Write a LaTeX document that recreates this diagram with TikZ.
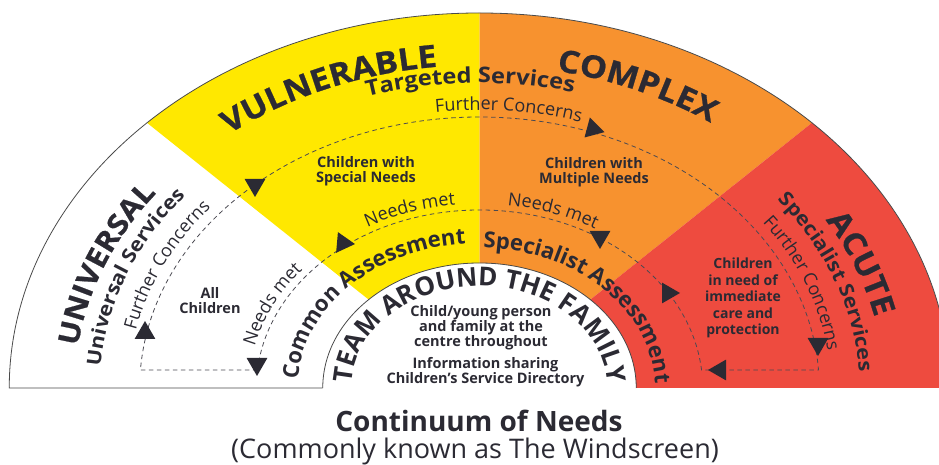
\documentclass[tikz,border=0pt]{standalone}
\usepackage{fontspec}
\setmainfont{Open Sans}
\newfontfamily\widefont{Open Sans}[FakeStretch=1.1]
\newfontfamily\heavyfont{Open Sans}[FakeStretch=1.1,FakeBold=0.8]
\usetikzlibrary{decorations.text,shapes.geometric}
\definecolor{cyel}{HTML}{FFE800}
\definecolor{cora}{HTML}{F7922F}
\definecolor{cred}{HTML}{EE4B3F}
\definecolor{ctxt}{HTML}{2B2A33}
\definecolor{cline}{HTML}{4A4A4A}
\newcommand\myBig{\heavyfont\bfseries\fontsize{31}{33}\selectfont}
\newcommand\mySideBig{\heavyfont\bfseries\fontsize{28.5}{30}\selectfont}
\newcommand\myServ{\widefont\bfseries\fontsize{21.5}{23}\selectfont}
\newcommand\mySideServ{\widefont\bfseries\fontsize{19.5}{21}\selectfont}
\newcommand\myConc{\fontsize{18}{20}\selectfont}
\newcommand\myAssess{\bfseries\fontsize{22}{24}\selectfont}
\newcommand\myTeam{\bfseries\fontsize{26}{28}\selectfont}
\newcommand\mySmall{\bfseries\fontsize{14.5}{15}\selectfont}
% #1 radius (y), #2 centre angle, #3 half span, #4 font, #5 text
\newcommand\arctext[5]{%
  \path[decorate,decoration={text along path,text align=center,text color=ctxt,text={|#4|#5}}]
  ({#2+#3}:{1.254*#1} and {#1}) arc[start angle={#2+#3},end angle={#2-#3},x radius={1.254*#1},y radius={#1}];}
\tikzset{
  tri/.style={regular polygon, regular polygon sides=3, fill=ctxt, draw=none, inner sep=0pt, minimum size=24pt},
  dashline/.style={draw=ctxt!85, line width=0.8pt, dash pattern=on 4.5pt off 3.5pt},
  outline/.style={draw=cline, line width=0.8pt},
  smalltxt/.style={font=\mySmall, text=ctxt, align=center, inner sep=0pt}
}
\begin{document}
\begin{tikzpicture}[x=1pt,y=1pt]
\path[use as bounding box] (-479.5,-77) rectangle (459.5,388);
\begin{scope}
\clip (-479.5,-77) rectangle (459.5,388);
% sectors
\fill[cyel] (135:470.25 and 375) arc[start angle=135,end angle=90,x radius=470.25,y radius=375]
  -- (90:156.75 and 125) arc[start angle=90,end angle=135,x radius=156.75,y radius=125] -- cycle;
\fill[cora] (90:470.25 and 375) arc[start angle=90,end angle=45,x radius=470.25,y radius=375]
  -- (45:156.75 and 125) arc[start angle=45,end angle=90,x radius=156.75,y radius=125] -- cycle;
\fill[cred] (45:470.25 and 375) arc[start angle=45,end angle=0,x radius=470.25,y radius=375]
  -- (156.75,0) arc[start angle=0,end angle=45,x radius=156.75,y radius=125] -- cycle;
% outlines
\coordinate (ib) at (-156.75,0);
\coordinate (ob) at (-470.25,0);
\coordinate (ir) at (156.75,0);
\draw[outline] (ib) -- (ob) arc[start angle=180,end angle=0,x radius=470.25,y radius=375];
\draw[outline] (ir) arc[start angle=0,end angle=180,x radius=156.75,y radius=125];
% dashed loop
\coordinate (dl1) at (-222.06,18);
\coordinate (dl2) at (-339.05,18);
\coordinate (dr1) at (339.05,18);
\coordinate (dr2) at (222.06,18);
\draw[dashline] (dl1) -- (dl2) arc[start angle=176.19,end angle=3.81,x radius=339.8,y radius=271]
  -- (dr2) arc[start angle=5.80,end angle=174.20,x radius=223.2,y radius=178] -- cycle;
% arrow heads
\node[tri] (a1) at (-334.5,55) {};
\node[tri,rotate=180] (a2) at (-224.5,203) {};
\node[tri,rotate=15] (a3) at (113.5,259) {};
\node[tri,rotate=180] (a4) at (338.5,44) {};
\node[tri,rotate=90] (a5) at (240.5,18) {};
\node[tri,rotate=-90] (a6) at (188.5,95) {};
\node[tri,rotate=180] (a7) at (120.5,151) {};
\node[tri,rotate=25] (a8) at (-136.5,145) {};
\node[tri,rotate=180] (a9) at (-222.5,24) {};
\end{scope}
% curved labels
\arctext{323}{113.5}{40}{\myBig}{VULNERABLE}
\arctext{323}{65.5}{40}{\myBig}{COMPLEX}
\arctext{323}{158}{20}{\mySideBig}{UNIVERSAL}
\arctext{323}{21.5}{20}{\myBig}{ACUTE}
\arctext{305}{91.5}{40}{\myServ}{Targeted Services}
\arctext{303}{158.5}{22}{\mySideServ}{Universal Services}
\arctext{303}{20.5}{22}{\mySideServ}{Specialist Services}
\arctext{278}{85}{30}{\myConc}{Further Concerns}
\arctext{280}{154.5}{22}{\myConc}{Further Concerns}
\arctext{280}{21.5}{22}{\myConc}{Further Concerns}
\arctext{184}{154}{22}{\myConc}{Needs met}
\arctext{184}{108}{25}{\myConc}{Needs met}
\arctext{184}{71}{25}{\myConc}{Needs met}
\arctext{145}{137}{55}{\myAssess}{Common Assessment}
\arctext{140}{44}{55}{\myAssess}{Specialist Assessment}
\arctext{102}{90}{95}{\myTeam}{TEAM AROUND THE FAMILY}
% straight texts
\node[smalltxt] (allch) at (-269.5,87) {All\\Children};
\node[smalltxt] (special) at (-113.5,217) {Children with\\Special Needs};
\node[smalltxt] (multiple) at (114.5,216) {Children with\\Multiple Needs};
\node[smalltxt, font=\bfseries\fontsize{14}{16.5}\selectfont] (acute) at (263.5,90) {Children\\in need of\\immediate\\care and\\protection};
\node[smalltxt] (centre) at (1.5,60) {Child/young person\\and family at the\\centre throughout};
\node[smalltxt] (info) at (6,16) {Information sharing\\Children’s Service Directory};
\node[font=\bfseries\fontsize{28}{30}\selectfont, text=ctxt, anchor=base] (title) at (-0.5,-44) {Continuum of Needs};
\node[font=\fontsize{27}{29}\selectfont, text=ctxt, anchor=base] (subtitle) at (-4.5,-71) {(Commonly known as The Windscreen)};
\end{tikzpicture}
\end{document}
